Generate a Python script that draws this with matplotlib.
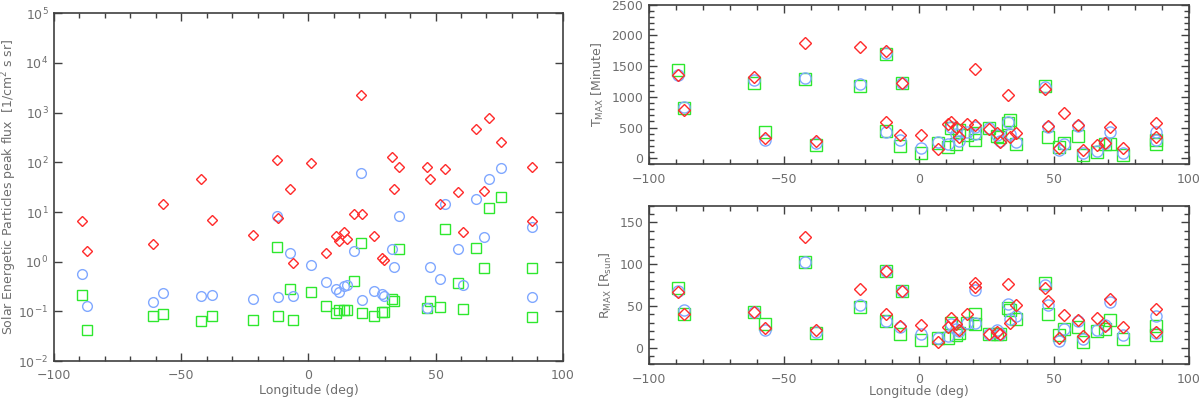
import numpy as np
import matplotlib
matplotlib.use("Agg")
import matplotlib.pyplot as plt
from matplotlib.ticker import MultipleLocator, LogLocator, NullLocator, LogFormatterMathtext

# Event longitudes (deg)
lon = [-89.1, -87.0, -61.1, -57.0, -42.1, -38.0, -21.9, -12.3, -12.1, -7.1,
       -6.2, 0.9, 6.9, 10.8, 11.9, 13.8, 15.0, 17.9, 20.9, 20.8,
       25.9, 29.0, 29.9, 32.8, 33.7, 35.8, 46.8, 47.9, 51.9, 53.8,
       58.9, 60.7, 65.8, 69.0, 70.8, 75.6, 87.8, 87.8]

# Peak flux [1/cm^2 s sr] for three channels
flux_red = [6.7, 1.64, 2.27, 14.7, 46.8, 6.9, 3.5, 113, 7.5, 29,
            0.95, 95, 1.5, 3.3, 2.6, 4.0, 2.9, 9.0, 9.2, 2230,
            3.3, 1.17, 1.08, 129, 28.6, 80, 80, 47, 14.3, 72,
            25, 4.0, 467, 27, 790, 256, 80, 6.6]
flux_blue = [0.57, 0.128, 0.155, 0.23, 0.20, 0.217, 0.18, 8.4, 0.198, 1.5,
             0.207, 0.86, 0.385, 0.28, 0.25, 0.33, 0.34, 1.64, 0.17, 61,
             0.26, 0.22, 0.20, 1.83, 0.79, 8.4, 0.119, 0.79, 0.455, 14.5,
             1.83, 0.345, 18, 3.2, 47, 78, 5.1, 0.198]
flux_green = [0.21, 0.042, 0.079, 0.089, 0.064, 0.082, 0.067, 2.0, 0.082, 0.28,
              0.068, 0.25, 0.128, 0.094, 0.107, 0.108, 0.108, 0.41, 0.092, 2.4,
              0.081, 0.096, 0.097, 0.18, 0.16, 1.8, 0.119, 0.164, 0.124, 4.5,
              0.37, 0.11, 1.89, 0.76, 11.8, 20.4, 0.73, 0.078]

# Time of maximum [minute]
tmax_red = [1363, 785, 1321, 334, 1872, 280, 1820, 1745, 589, 371,
            1231, 376, 148, 562, 594, 503, 344, 557, 541, 1458,
            477, 414, 264, 1024, 344, 408, 1124, 530, 159, 732,
            541, 132, 212, 248, 503, 175, 567, 344]
tmax_blue = [1360, 833, 1274, 291, 1310, 248, 1204, 1713, 435, 302,
             1231, 175, 271, 239, 503, 398, 280, 424, 514, 398,
             494, 382, 287, 594, 398, 264, 1156, 514, 132, 240,
             530, 89, 121, 243, 424, 80, 435, 302]
tmax_green = [1433, 822, 1220, 435, 1289, 223, 1178, 1703, 450, 196,
              1231, 80, 248, 185, 494, 239, 462, 371, 408, 302,
              494, 355, 344, 567, 621, 239, 1183, 344, 185, 255,
              355, 53, 105, 232, 239, 53, 291, 239]

# Distance at maximum [R_sun]
rmax_red = [66.7, 40.8, 43.2, 23.8, 132, 20.6, 70.6, 91.7, 40, 25.7,
            67.4, 26.5, 7.1, 24.5, 35.7, 28.6, 20.6, 40.5, 72.6, 77.4,
            16.7, 19, 15.8, 76.2, 29.8, 51.5, 71.4, 55.5, 11.9, 38.8,
            32.5, 13.8, 34.9, 25.7, 58.7, 24.5, 46.8, 18.6]
rmax_blue = [68, 44.8, 43.2, 20.6, 102, 18.7, 50.7, 91.7, 31.3, 24.4,
             67.4, 16.7, 11.1, 13.8, 28, 21.8, 20.2, 29.8, 29.8, 68.6,
             16.7, 20.6, 15.8, 52.4, 33.7, 37.6, 74.5, 51.5, 7.9, 22,
             31.7, 9.9, 20.6, 26.9, 54.8, 14.6, 37.3, 17.5]
rmax_green = [71.4, 40.8, 43.2, 28.6, 102, 17.9, 48.8, 91.7, 31.3, 16.7,
              67.4, 8.7, 11.5, 11.1, 29.8, 14.6, 17.9, 28.9, 27.7, 40.8,
              16.7, 16.7, 15.8, 47.6, 45, 33.7, 77.4, 40.5, 14.6, 21.8,
              24.5, 7.1, 20, 21.8, 32.9, 9.9, 25.4, 14.6]

RED = "#ff2a2a"
BLUE = "#80a8ff"
GREEN = "#2ee82e"
TXT = "#6e6e6e"
SPN = "#404040"
FS = 9

plt.rcParams["font.family"] = ["DejaVu Sans"]
plt.rcParams["font.size"] = FS

fig = plt.figure(figsize=(12, 3.99), dpi=100)
ax1 = fig.add_axes([0.045, 0.0952, 0.424, 0.8714])
ax2 = fig.add_axes([0.5408, 0.588, 0.45, 0.400])
ax3 = fig.add_axes([0.5408, 0.087, 0.45, 0.3975])


def style(ax):
    for s in ax.spines.values():
        s.set_color(SPN)
        s.set_linewidth(1.2)
    ax.tick_params(which="both", direction="in", top=True, right=True,
                   color=SPN, labelcolor=TXT, labelsize=FS, pad=4)
    ax.tick_params(axis="x", which="both", pad=6)
    ax.tick_params(which="major", length=6, width=1.0)
    ax.tick_params(which="minor", length=3.5, width=1.0)
    ax.xaxis.set_major_locator(MultipleLocator(50))
    ax.xaxis.set_minor_locator(MultipleLocator(10))
    ax.set_xlim(-100, 100)


def scatter3(ax, r, b, g, ms):
    ax.plot(lon, g, linestyle="none", marker="s", ms=ms, mfc="none",
            mec=GREEN, mew=1.0)
    ax.plot(lon, b, linestyle="none", marker="o", ms=ms, mfc="none",
            mec=BLUE, mew=1.0)
    ax.plot(lon, r, linestyle="none", marker="D", ms=ms * 0.72, mfc="none",
            mec=RED, mew=1.0)


# Left: peak flux
style(ax1)
ax1.set_yscale("log")
ax1.set_ylim(1e-2, 1e5)
ax1.yaxis.set_major_locator(LogLocator(base=10, numticks=10))
ax1.yaxis.set_major_formatter(LogFormatterMathtext())
ax1.yaxis.set_minor_locator(NullLocator())
scatter3(ax1, flux_red, flux_blue, flux_green, 7)
ax1.set_xlabel("Longitude (deg)", color=TXT, fontsize=FS, va="center")
ax1.xaxis.set_label_coords(0.5, -0.085)
ax1.set_ylabel("Solar Energetic Particles peak flux  [1/cm$^2$ s sr]",
               color=TXT, fontsize=FS, va="center")
ax1.yaxis.set_label_coords(-0.088, 0.5)

# Right top: T_max
style(ax2)
ax2.set_ylim(-100, 2500)
ax2.yaxis.set_major_locator(MultipleLocator(500))
ax2.yaxis.set_minor_locator(MultipleLocator(100))
scatter3(ax2, tmax_red, tmax_blue, tmax_green, 8)
ax2.set_ylabel("T$_{\\rm MAX}$ [Minute]", color=TXT, fontsize=FS, labelpad=4)

# Right bottom: R_max
style(ax3)
ax3.set_ylim(-20, 170)
ax3.yaxis.set_major_locator(MultipleLocator(50))
ax3.yaxis.set_minor_locator(MultipleLocator(10))
scatter3(ax3, rmax_red, rmax_blue, rmax_green, 8)
ax3.set_xlabel("Longitude (deg)", color=TXT, fontsize=FS, va="center")
ax3.xaxis.set_label_coords(0.5, -0.17)
ax3.set_ylabel("R$_{\\rm MAX}$ [R$_{\\rm sun}$]", color=TXT, fontsize=FS, labelpad=4)

fig.savefig("out.png", dpi=100)
